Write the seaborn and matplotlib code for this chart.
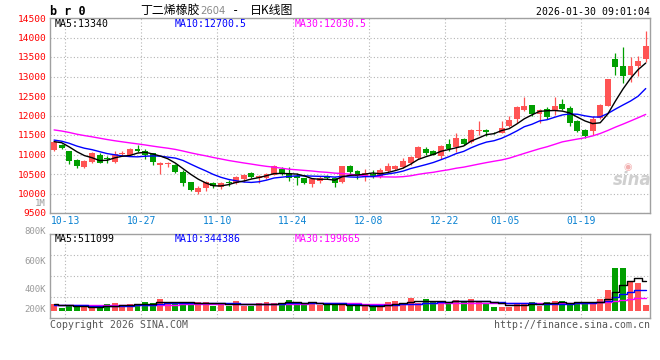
import numpy as np
import pandas as pd
import seaborn as sns
import matplotlib.pyplot as plt

# daily K data, 2025-10-09 .. 2026-01-29 (79 sessions)
opens = [11120, 11240, 11080, 10860, 10690, 10820, 10990, 10900, 10820, 11020,
         10990, 11140, 11090, 11030, 10720, 10760, 10730, 10560, 10290, 10040,
         10150, 10260, 10160, 10290, 10270, 10360, 10530, 10400, 10410, 10480,
         10640, 10530, 10440, 10390, 10240, 10320, 10430, 10390, 10300, 10700,
         10580, 10430, 10500, 10430, 10580, 10630, 10690, 10770, 10910, 11150,
         11090, 10960, 11260, 11190, 11410, 11320, 11600, 11640, 11560, 11555,
         11725, 11920, 12150, 12260, 12040, 12170, 12110, 12300, 12190, 11870,
         11640, 11600, 11940, 12250, 13440, 13270, 13040, 13260, 13450]
highs = [11360, 11270, 11100, 10880, 10860, 11070, 11050, 10970, 11100, 11080,
         11160, 11250, 11140, 11050, 10800, 10820, 10760, 10600, 10300, 10200,
         10320, 10290, 10290, 10340, 10460, 10500, 10560, 10470, 10520, 10720,
         10680, 10670, 10520, 10400, 10390, 10440, 10470, 10420, 10710, 10720,
         10600, 10620, 10610, 10650, 10770, 10740, 10920, 10960, 11220, 11180,
         11110, 11250, 11400, 11550, 11430, 11650, 11850, 11660, 11580, 11870,
         11980, 12250, 12470, 12270, 12170, 12220, 12470, 12420, 12240, 11880,
         11650, 11980, 12290, 12940, 13610, 13750, 13510, 13530, 14160]
lows = [11100, 11130, 10750, 10660, 10650, 10790, 10770, 10790, 10790, 11000,
        10970, 11070, 10880, 10730, 10510, 10680, 10520, 10190, 10060, 9980,
        10060, 10150, 10120, 10180, 10240, 10290, 10410, 10260, 10380, 10470,
        10470, 10310, 10230, 10240, 10160, 10260, 10370, 10160, 10280, 10500,
        10370, 10320, 10400, 10410, 10530, 10600, 10650, 10730, 10890, 11000,
        10980, 10880, 11100, 11060, 11250, 11300, 11500, 11480, 11530, 11540,
        11700, 11810, 12110, 11980, 11810, 11910, 12020, 12130, 11740, 11570,
        11430, 11510, 11900, 12240, 13040, 12830, 12870, 13020, 13380]
closes = [11310, 11160, 10840, 10710, 10840, 11040, 10790, 10880, 11020, 11050,
          11130, 11100, 10990, 10800, 10780, 10780, 10540, 10280, 10090, 10150,
          10290, 10180, 10260, 10260, 10430, 10470, 10430, 10450, 10500, 10700,
          10500, 10390, 10400, 10260, 10360, 10410, 10400, 10280, 10700, 10540,
          10450, 10520, 10420, 10600, 10700, 10700, 10830, 10930, 11200, 11050,
          11000, 11230, 11150, 11430, 11280, 11640, 11620, 11580, 11550, 11680,
          11880, 12220, 12250, 12050, 12130, 11960, 12250, 12170, 11810, 11600,
          11470, 11910, 12280, 12930, 13250, 13020, 13270, 13410, 13770]
# closes of the 29 sessions before the window (feed the moving averages)
prior_closes = [12000, 11950, 12050, 11900, 11980, 11850, 11920, 11960, 11880, 11940,
                11870, 11800, 11700, 11620, 11550, 11480, 11520, 11450, 11380, 11400,
                11450, 11380, 11420, 11390, 11410, 11300, 11380, 11320, 11340]

# volume, thousands of lots
vol_k = [118, 50, 76, 76, 67, 67, 67, 118, 134, 101,
         118, 118, 151, 134, 202, 151, 118, 134, 118, 151,
         151, 84, 134, 84, 168, 84, 84, 134, 151, 134,
         134, 185, 151, 101, 151, 101, 101, 118, 101, 84,
         84, 84, 67, 118, 151, 168, 134, 218, 134, 202,
         151, 168, 134, 185, 168, 202, 168, 134, 67, 67,
         67, 134, 134, 151, 84, 151, 168, 168, 134, 134,
         151, 151, 202, 353, 722, 722, 504, 470, 101]
prior_vol_k = [110, 95, 120, 100, 105, 90, 115, 100, 110, 95,
               100, 105, 120, 110, 100, 95, 105, 110, 100, 120,
               110, 100, 95, 105, 110, 120, 100, 115, 105]

tick_pos = [2, 12, 22, 32, 42, 52, 60, 70]
tick_labels = ['10-13', '10-27', '11-10', '11-24', '12-08', '12-22', '01-05', '01-19']

UP = '#ff5454'
DOWN = '#009f00'
GRID = '#b4b4b4'
FRAME = '#a0a0a0'
MONO = 'DejaVu Sans Mono'
CJK = 'Noto Sans CJK SC'

sns.set_style('white')
plt.rcParams['font.family'] = [MONO, CJK]

df = pd.DataFrame({'open': opens, 'high': highs, 'low': lows,
                   'close': closes, 'vol': vol_k})
n = len(df)
df['idx'] = np.arange(n)
all_close = pd.Series(prior_closes + closes)
all_vol = pd.Series(prior_vol_k + vol_k)
for w in (5, 10, 30):
    df[f'ma{w}'] = all_close.rolling(w).mean().iloc[-n:].values
    df[f'vma{w}'] = all_vol.rolling(w).mean().iloc[-n:].values
colors = np.where(df['close'] >= df['open'], UP, DOWN)

W, H = 660, 360
fig = plt.figure(figsize=(W / 100, H / 100), dpi=100)


def box(l, t, r, b):
    return [l / W, 1 - b / H, (r - l) / W, (b - t) / H]


ax = fig.add_axes(box(50.3, 18, 649.5, 213))
axv = fig.add_axes(box(50.3, 234, 649.5, 318))

# price candles
ax.vlines(df['idx'], df['low'], df['high'], colors=colors, lw=0.9, zorder=2)
body = (df['close'] - df['open']).abs().clip(lower=14)
ax.bar(df['idx'], body, bottom=df[['open', 'close']].min(axis=1),
       width=0.78, color=colors, lw=0, zorder=3)
for col, c in [('ma30', '#ff00ff'), ('ma10', '#0000ff'), ('ma5', 'black')]:
    sns.lineplot(data=df, x='idx', y=col, color=c, lw=1, ax=ax, zorder=4)

# volume
axv.bar(df['idx'], df['vol'], width=0.78, color=colors, lw=0, zorder=3)
for col, c in [('vma30', '#ff00ff'), ('vma10', '#0000ff'), ('vma5', 'black')]:
    sns.lineplot(data=df, x='idx', y=col, color=c, lw=1, ax=axv,
                 drawstyle='steps-mid', zorder=4)

for a in (ax, axv):
    a.set_xlim(-0.5, n - 0.5)
    a.set_xticks(np.array(tick_pos) - 0.5)
    a.set_xlabel('')
    a.set_ylabel('')
    a.grid(True, color=GRID, ls=(0, (1, 2)), lw=0.8)
    for s in a.spines.values():
        s.set_color(FRAME)
        s.set_linewidth(1)

ax.set_ylim(9500, 14500)
ax.set_yticks(np.arange(9500, 14501, 500))
ax.set_xticklabels(tick_labels)
ax.tick_params(axis='y', length=0, pad=3, labelsize=6.8, labelcolor='#ff0000')
ax.tick_params(axis='x', length=0, pad=2.5, labelsize=7, labelcolor='#0a82d2')

axv.set_ylim(-117.6, 1293.6)
axv.set_yticks(np.linspace(-117.6, 1293.6, 5)[1:-1])
axv.set_yticklabels([])
axv.set_xticklabels([])
axv.tick_params(length=0)

# volume scale labels as the original draws them
for lab, ypx in [('1M', 203), ('800K', 231), ('600K', 261), ('400K', 290), ('200K', 310)]:
    fig.text(46 / W, 1 - ypx / H, lab, ha='right', va='center',
             fontsize=6.5, color='#9a9a9a', family=MONO)

# header texts
def ftxt(xpx, ypx, s, **kw):
    kw.setdefault('va', 'center')
    kw.setdefault('family', MONO)
    fig.text(xpx / W, 1 - ypx / H, s, **kw)


ftxt(50, 11.5, 'b r 0', fontsize=8.5, fontweight='bold', color='black')
ftxt(140, 10.5, '丁二烯橡胶', fontsize=8.6, family=[CJK, MONO], color='black')
ftxt(200, 11.5, '2604', fontsize=7.2, color='#8a8a8a', family='DejaVu Sans')
ftxt(232, 10.5, '-', fontsize=8.6, color='black')
ftxt(250, 10.5, '日K线图', fontsize=8.6, family=[CJK, MONO], color='black')
ftxt(650, 12, '2026-01-30 09:01:04', ha='right', fontsize=7.1, color='black')

ftxt(55, 24, 'MA5:13340', fontsize=7.1, color='black')
ftxt(175, 24, 'MA10:12700.5', fontsize=7.1, color='#0000ff')
ftxt(295, 24, 'MA30:12030.5', fontsize=7.1, color='#ff00ff')
ftxt(55, 238.5, 'MA5:511099', fontsize=7.1, color='black')
ftxt(175, 238.5, 'MA10:344386', fontsize=7.1, color='#0000ff')
ftxt(295, 238.5, 'MA30:199665', fontsize=7.1, color='#ff00ff')

ftxt(50, 324.5, 'Copyright 2026 SINA.COM', fontsize=7.1, color='#555555')
ftxt(650, 324.5, 'http://finance.sina.com.cn', ha='right', fontsize=7.1, color='#555555')

# watermark
ftxt(652, 180, 'sina', ha='right', fontsize=12, fontweight='bold', style='italic',
     color='#cfcfcf', family='DejaVu Sans')
ftxt(628, 167, '◉', ha='center', fontsize=7, color='#f2b0b0', family='DejaVu Sans')

fig.savefig('out.png', dpi=100)
